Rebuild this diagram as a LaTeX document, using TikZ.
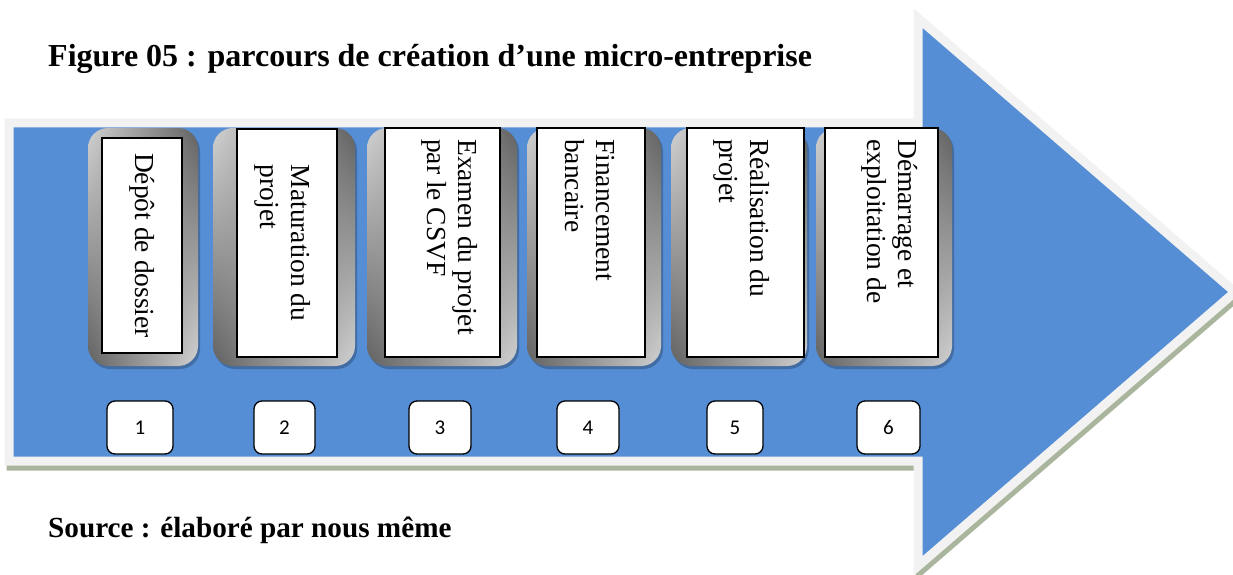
\documentclass[tikz,border=0pt]{standalone}
\usepackage{fontspec}
\setmainfont{Liberation Serif}
\newfontfamily\numfont{Carlito}
\usetikzlibrary{shadows}
\definecolor{arrowblue}{HTML}{558ED5}
\definecolor{bordergrey}{HTML}{F2F2F2}
\definecolor{shadowgreen}{HTML}{A9B59C}
\pgfdeclarefunctionalshading{cardbevel}{\pgfpoint{-50bp}{-50bp}}{\pgfpoint{50bp}{50bp}}{}{mul 625 div -0.22 mul 0.6 add dup dup}
\tikzset{
  cardbox/.style={rounded corners=20pt, minimum height=238pt, inner sep=0pt,
    drop shadow={shadow xshift=2pt, shadow yshift=-3pt, fill=arrowblue!55!black, opacity=0.5},
    shading=cardbevel},
  whitebox/.style={draw=black, line width=1.2pt, fill=white, inner sep=0pt},
  cardtext/.style={rotate=-90, align=left, inner sep=0pt, font=\fontsize{27.5}{31}\selectfont},
  numbox/.style={draw=black, line width=1.3pt, fill=white, rounded corners=8pt, minimum height=53pt, inner sep=0pt, font=\numfont\fontsize{21}{25}\selectfont},
  captext/.style={inner sep=0pt, font=\bfseries\fontsize{32}{37}\selectfont}
}
\begin{document}
\begin{tikzpicture}[x=1pt,y=-1pt]
\useasboundingbox (0,0) rectangle (1233,575);
% arrow shadow
\fill[shadowgreen, draw=shadowgreen, line width=9pt, shift={(2,5)}]
  (9,123) -- (918,123) -- (918,18) -- (1235,292) -- (918,566) -- (918,461) -- (9,461) -- cycle;
% arrow
\draw[bordergrey, line width=9pt, fill=arrowblue]
  (9,123) -- (918,123) -- (918,18) -- (1235,292) -- (918,566) -- (918,461) -- (9,461) -- cycle;

% cards
\node[cardbox, minimum width=110pt] (c1) at (143,247) {};
\node[cardbox, minimum width=142pt] (c2) at (284,247) {};
\node[cardbox, minimum width=150pt] (c3) at (442,247) {};
\node[cardbox, minimum width=134pt] (c4) at (594,247) {};
\node[cardbox, minimum width=136pt] (c5) at (739,247) {};
\node[cardbox, minimum width=136pt] (c6) at (884,247) {};

\node[whitebox, minimum width=80pt, minimum height=215pt] (w1) at (142,245.5) {};
\node[whitebox, minimum width=100pt, minimum height=228pt] (w2) at (287,243) {};
\node[whitebox, minimum width=115pt, minimum height=229pt] (w3) at (442.5,242.5) {};
\node[whitebox, minimum width=108pt, minimum height=229pt] (w4) at (591,242.5) {};
\node[whitebox, minimum width=117pt, minimum height=229pt] (w5) at (745.5,242.5) {};
\node[whitebox, minimum width=113pt, minimum height=229pt] (w6) at (881.5,242.5) {};

\node[cardtext] (t1) at (w1.center) {Dépôt de dossier};
\node[cardtext] (t2) at (283,243) {Maturation du\\projet};
\node[cardtext, anchor=west] (t3) at (450,139) {Examen du projet\\par le CSVF};
\node[cardtext, anchor=west] (t4) at (590,139) {Financement\\bancaire};
\node[cardtext, anchor=west] (t5) at (742,139) {Réalisation du\\projet};
\node[cardtext, anchor=west] (t6) at (890,139) {Démarrage et\\exploitation de};

% numbers
\node[numbox, minimum width=66pt] (n1) at (140,427.5) {1};
\node[numbox, minimum width=61pt] (n2) at (284.5,427.5) {2};
\node[numbox, minimum width=62pt] (n3) at (440,427.5) {3};
\node[numbox, minimum width=62pt] (n4) at (588,427.5) {4};
\node[numbox, minimum width=56pt] (n5) at (735,427.5) {5};
\node[numbox, minimum width=63pt] (n6) at (888.5,427.5) {6};

% captions
\node[captext, anchor=base west] (title) at (48,67) {Figure 05 : parcours de création d’une micro-entreprise};
\node[captext, anchor=base west, font=\bfseries\fontsize{29.2}{34}\selectfont] (source) at (48,537) {Source : élaboré par nous même};
\end{tikzpicture}
\end{document}
